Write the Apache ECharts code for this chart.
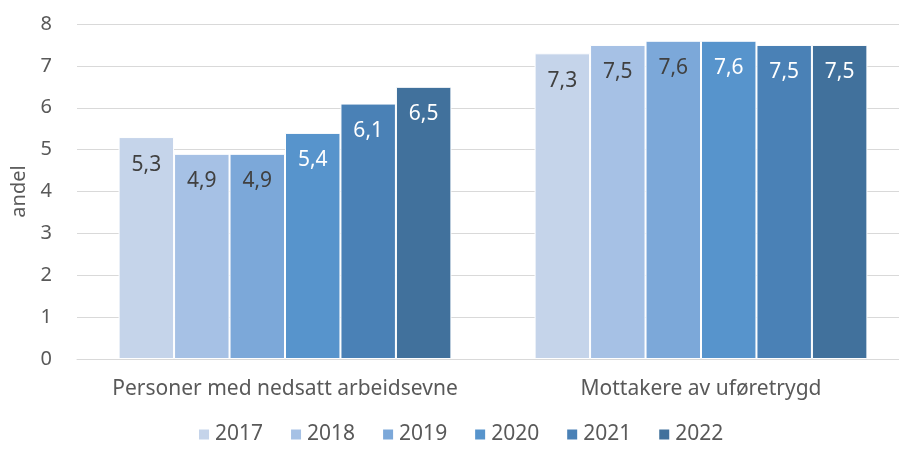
<!DOCTYPE html>
<html>
<head>
<meta charset="utf-8">
<script src="https://cdn.jsdelivr.net/npm/echarts@6/dist/echarts.min.js"></script>
<style>
  html, body { margin: 0; padding: 0; background: #fff; overflow: hidden; }
  /* plot area runs a little past the right edge, as in the reference */
  #chart { width: 909px; height: 451px; }
</style>
</head>
<body>
<div id="chart"></div>
<script>
// data
const categories = ['Personer med nedsatt arbeidsevne', 'Mottakere av uføretrygd'];
const years = ['2017', '2018', '2019', '2020', '2021', '2022'];
const values2017 = [5.3, 7.3];
const values2018 = [4.9, 7.5];
const values2019 = [4.9, 7.6];
const values2020 = [5.4, 7.6];
const values2021 = [6.1, 7.5];
const values2022 = [6.5, 7.5];
const yTicks = [0, 1, 2, 3, 4, 5, 6, 7, 8];

const allValues = [values2017, values2018, values2019, values2020, values2021, values2022];
const colors = ['#c5d4ea', '#a6c1e5', '#7ca8d9', '#5794cc', '#4a81b6', '#41719c'];
const labelColors = ['#404040', '#404040', '#404040', '#ffffff', '#ffffff', '#ffffff'];
const font = 'Noto Sans';

const chart = echarts.init(document.getElementById('chart'));

const series = years.map((y, i) => ({
    name: y,
    type: 'bar',
    data: allValues[i],
    barGap: '0%',
    barCategoryGap: '20%',
    itemStyle: { color: colors[i], borderColor: '#ffffff', borderWidth: 1 },
    label: {
        show: true,
        position: 'insideTop',
        distance: 17,
        fontFamily: font,
        fontSize: 21,
        color: labelColors[i],
        formatter: (p) => String(p.value).replace('.', ',')
    }
}));

chart.setOption({
    animation: false,
    grid: { left: 77, right: 0, top: 24, bottom: 92 },
    legend: {
        data: years,
        bottom: 1,
        left: 192,
        itemWidth: 12,
        itemHeight: 12,
        itemGap: 26,
        icon: 'rect',
        textStyle: { fontFamily: font, fontSize: 21, color: '#595959' }
    },
    xAxis: {
        type: 'category',
        data: categories,
        axisTick: { show: false },
        axisLine: { lineStyle: { color: '#d9d9d9', width: 1 } },
        axisLabel: { interval: 0, fontFamily: font, fontSize: 21, color: '#595959', margin: 20 }
    },
    yAxis: {
        type: 'value',
        min: yTicks[0],
        max: yTicks[yTicks.length - 1],
        interval: 1,
        name: 'andel',
        nameLocation: 'middle',
        nameGap: 48,
        nameTextStyle: { fontFamily: font, fontSize: 20, color: '#595959' },
        axisLine: { show: false },
        axisTick: { show: false },
        splitLine: { lineStyle: { color: '#d9d9d9', width: 1 } },
        axisLabel: { fontFamily: font, fontSize: 20, color: '#595959', margin: 25 }
    },
    series: series
});
</script>
</body>
</html>
